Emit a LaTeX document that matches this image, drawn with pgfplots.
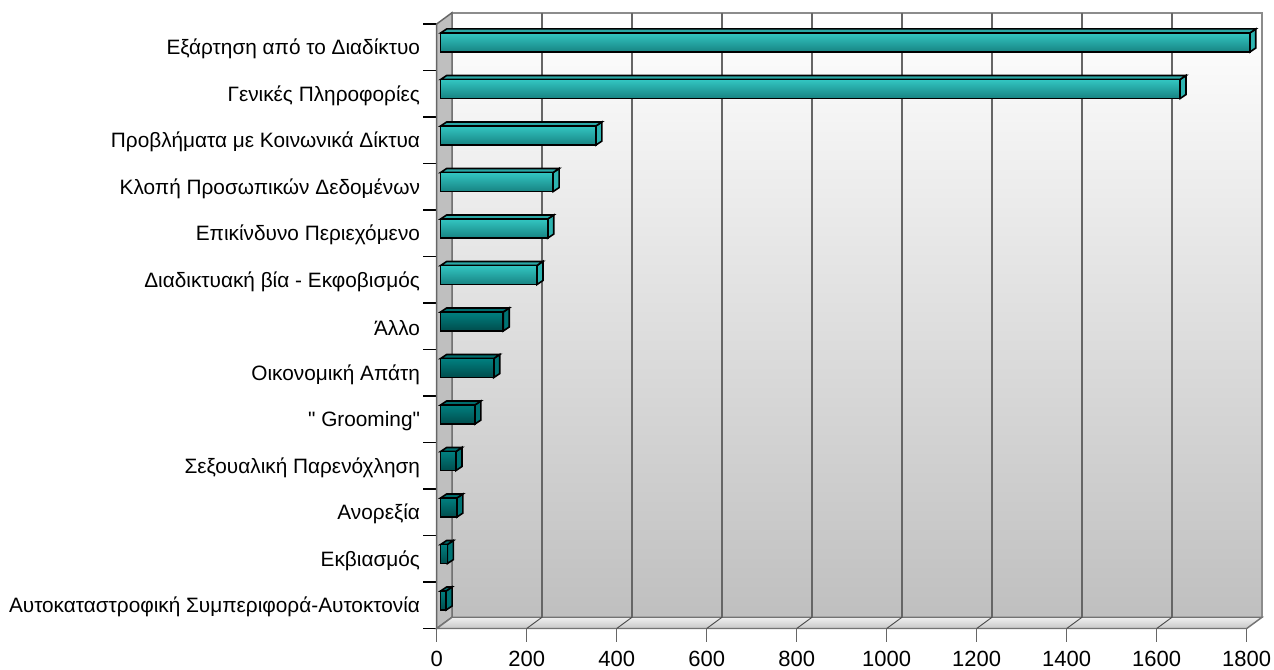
\documentclass[border=0pt]{standalone}
\usepackage{fontspec}
\setmainfont{Liberation Sans}
\newfontfamily\plainquote{Liberation Sans}
\usepackage{pgfplots}
\pgfplotsset{compat=1.18}

% 1 px of the reference = 0.75pt
\definecolor{tealtop}{HTML}{33C6C2}
\definecolor{tealbot}{HTML}{178382}
\definecolor{tealtopface}{HTML}{2AA8A6}
\definecolor{tealside}{HTML}{2DB3B0}
\definecolor{darktop}{HTML}{008080}
\definecolor{darkbot}{HTML}{004C4C}
\definecolor{darktopface}{HTML}{006E6E}
\definecolor{darkside}{HTML}{007474}

% depth of the bars: 6px across, 4px up; walls: 15.3px across, 11px up
\def\bardx{13.3}
\def\bardy{0.086}
\def\wdx{34}
\def\wdy{0.242}

% row, value, front top, front bottom, top face, side face
\newcommand\threedbar[6]{%
  \pgfmathsetmacro\ya{#1-0.205}%
  \pgfmathsetmacro\yb{#1+0.205}%
  \pgfmathsetmacro\yc{\ya-\bardy}%
  \pgfmathsetmacro\yd{\yb-\bardy}%
  \pgfmathsetmacro\xc{#2+\bardx}%
  \addplot[draw=black, line width=1.2pt, line join=miter, fill=#6, barshift]
    coordinates {(#2,\ya)(\xc,\yc)(\xc,\yd)(#2,\yb)} -- cycle;
  \addplot[draw=black, line width=1.2pt, line join=miter, fill=#5, barshift]
    coordinates {(0,\ya)(\bardx,\yc)(\xc,\yc)(#2,\ya)} -- cycle;
  \addplot[draw=black, line width=1.2pt, line join=miter, top color=#3, bottom color=#4, barshift]
    coordinates {(0,\ya)(#2,\ya)(#2,\yb)(0,\yb)} -- cycle;
}

\begin{document}
\begin{tikzpicture}
\path[use as bounding box, x=0.75pt, y=0.75pt] (-436.7,-40.5) rectangle (837.3,628.5);
\begin{axis}[
  at={(0,0)}, anchor=south west,
  scale only axis,
  width=607.5pt, height=453.4pt,
  xmin=0, xmax=1800,
  ymin=-0.5, ymax=12.5,
  y dir=reverse,
  clip=false,
  axis x line*=bottom,
  axis y line*=left,
  axis line style={black, line width=0.8pt},
  x axis line style={draw=black!55, line width=1.1pt},
  xtick={0,200,...,1800},
  ytick={-0.5,0.5,...,12.5},
  yticklabels={},
  extra y ticks={0,...,12},
  extra y tick labels={
    Εξάρτηση από το Διαδίκτυο,
    Γενικές Πληροφορίες,
    Προβλήματα με Κοινωνικά Δίκτυα,
    Κλοπή Προσωπικών Δεδομένων,
    Επικίνδυνο Περιεχόμενο,
    Διαδικτυακή βία - Εκφοβισμός,
    Άλλο,
    Οικονομική Απάτη,
    {\plainquote" Grooming"},
    Σεξουαλική Παρενόχληση,
    Ανορεξία,
    Εκβιασμός,
    Αυτοκαταστροφική Συμπεριφορά-Αυτοκτονία
  },
  extra y tick style={
    tick style={draw=none},
    major tick length=0pt,
    tick label style={font=\fontsize{15.6pt}{18pt}\selectfont, anchor=east, xshift=-9pt, yshift=-1.5pt}
  },
  major tick length=10pt,
  tick align=outside,
  x tick style={black!60, line width=1.1pt},
  y tick style={black, line width=0.8pt},
  x tick label style={font=\fontsize{16.5pt}{20pt}\selectfont, yshift=-3.2pt},
  /pgf/number format/assume math mode=true,
  /pgf/number format/set thousands separator={},
  barshift/.style={xshift=3pt, yshift=3.56pt},
  backshift/.style={xshift=11.5pt, yshift=8.25pt},
]
% back wall, left wall, floor
\addplot[draw=black!45, line width=1.1pt, top color=white, bottom color=black!25, backshift]
  coordinates {(0,-0.5)(1800,-0.5)(1800,12.5)(0,12.5)} -- cycle;
\addplot[draw=black!60, line width=1.1pt, fill=black!25]
  coordinates {(0,-0.5)(\wdx,-0.5-\wdy)(\wdx,12.5-\wdy)(0,12.5)} -- cycle;
\addplot[draw=black!55, line width=1.1pt, top color=black!6, bottom color=black!22]
  coordinates {(0,12.5)(\wdx,12.5-\wdy)(1834,12.5-\wdy)(1800,12.5)} -- cycle;
% grid on the back wall, with its slant across the floor
\pgfplotsinvokeforeach{200,400,...,1600}{
  \addplot[draw=black!60, line width=1.1pt, backshift]
    coordinates {(#1,-0.5)(#1,12.5)};
  \addplot[draw=black!70, line width=0.7pt]
    coordinates {(#1,12.5)(#1+\wdx,12.5-\wdy)};
}
\threedbar{0}{1798}{tealtop}{tealbot}{tealtopface}{tealside}
\threedbar{1}{1643}{tealtop}{tealbot}{tealtopface}{tealside}
\threedbar{2}{345}{tealtop}{tealbot}{tealtopface}{tealside}
\threedbar{3}{250}{tealtop}{tealbot}{tealtopface}{tealside}
\threedbar{4}{238}{tealtop}{tealbot}{tealtopface}{tealside}
\threedbar{5}{214}{tealtop}{tealbot}{tealtopface}{tealside}
\threedbar{6}{139}{darktop}{darkbot}{darktopface}{darkside}
\threedbar{7}{118}{darktop}{darkbot}{darktopface}{darkside}
\threedbar{8}{76}{darktop}{darkbot}{darktopface}{darkside}
\threedbar{9}{34}{darktop}{darkbot}{darktopface}{darkside}
\threedbar{10}{36}{darktop}{darkbot}{darktopface}{darkside}
\threedbar{11}{15}{darktop}{darkbot}{darktopface}{darkside}
\threedbar{12}{12}{darktop}{darkbot}{darktopface}{darkside}
\end{axis}
\end{tikzpicture}
\end{document}
